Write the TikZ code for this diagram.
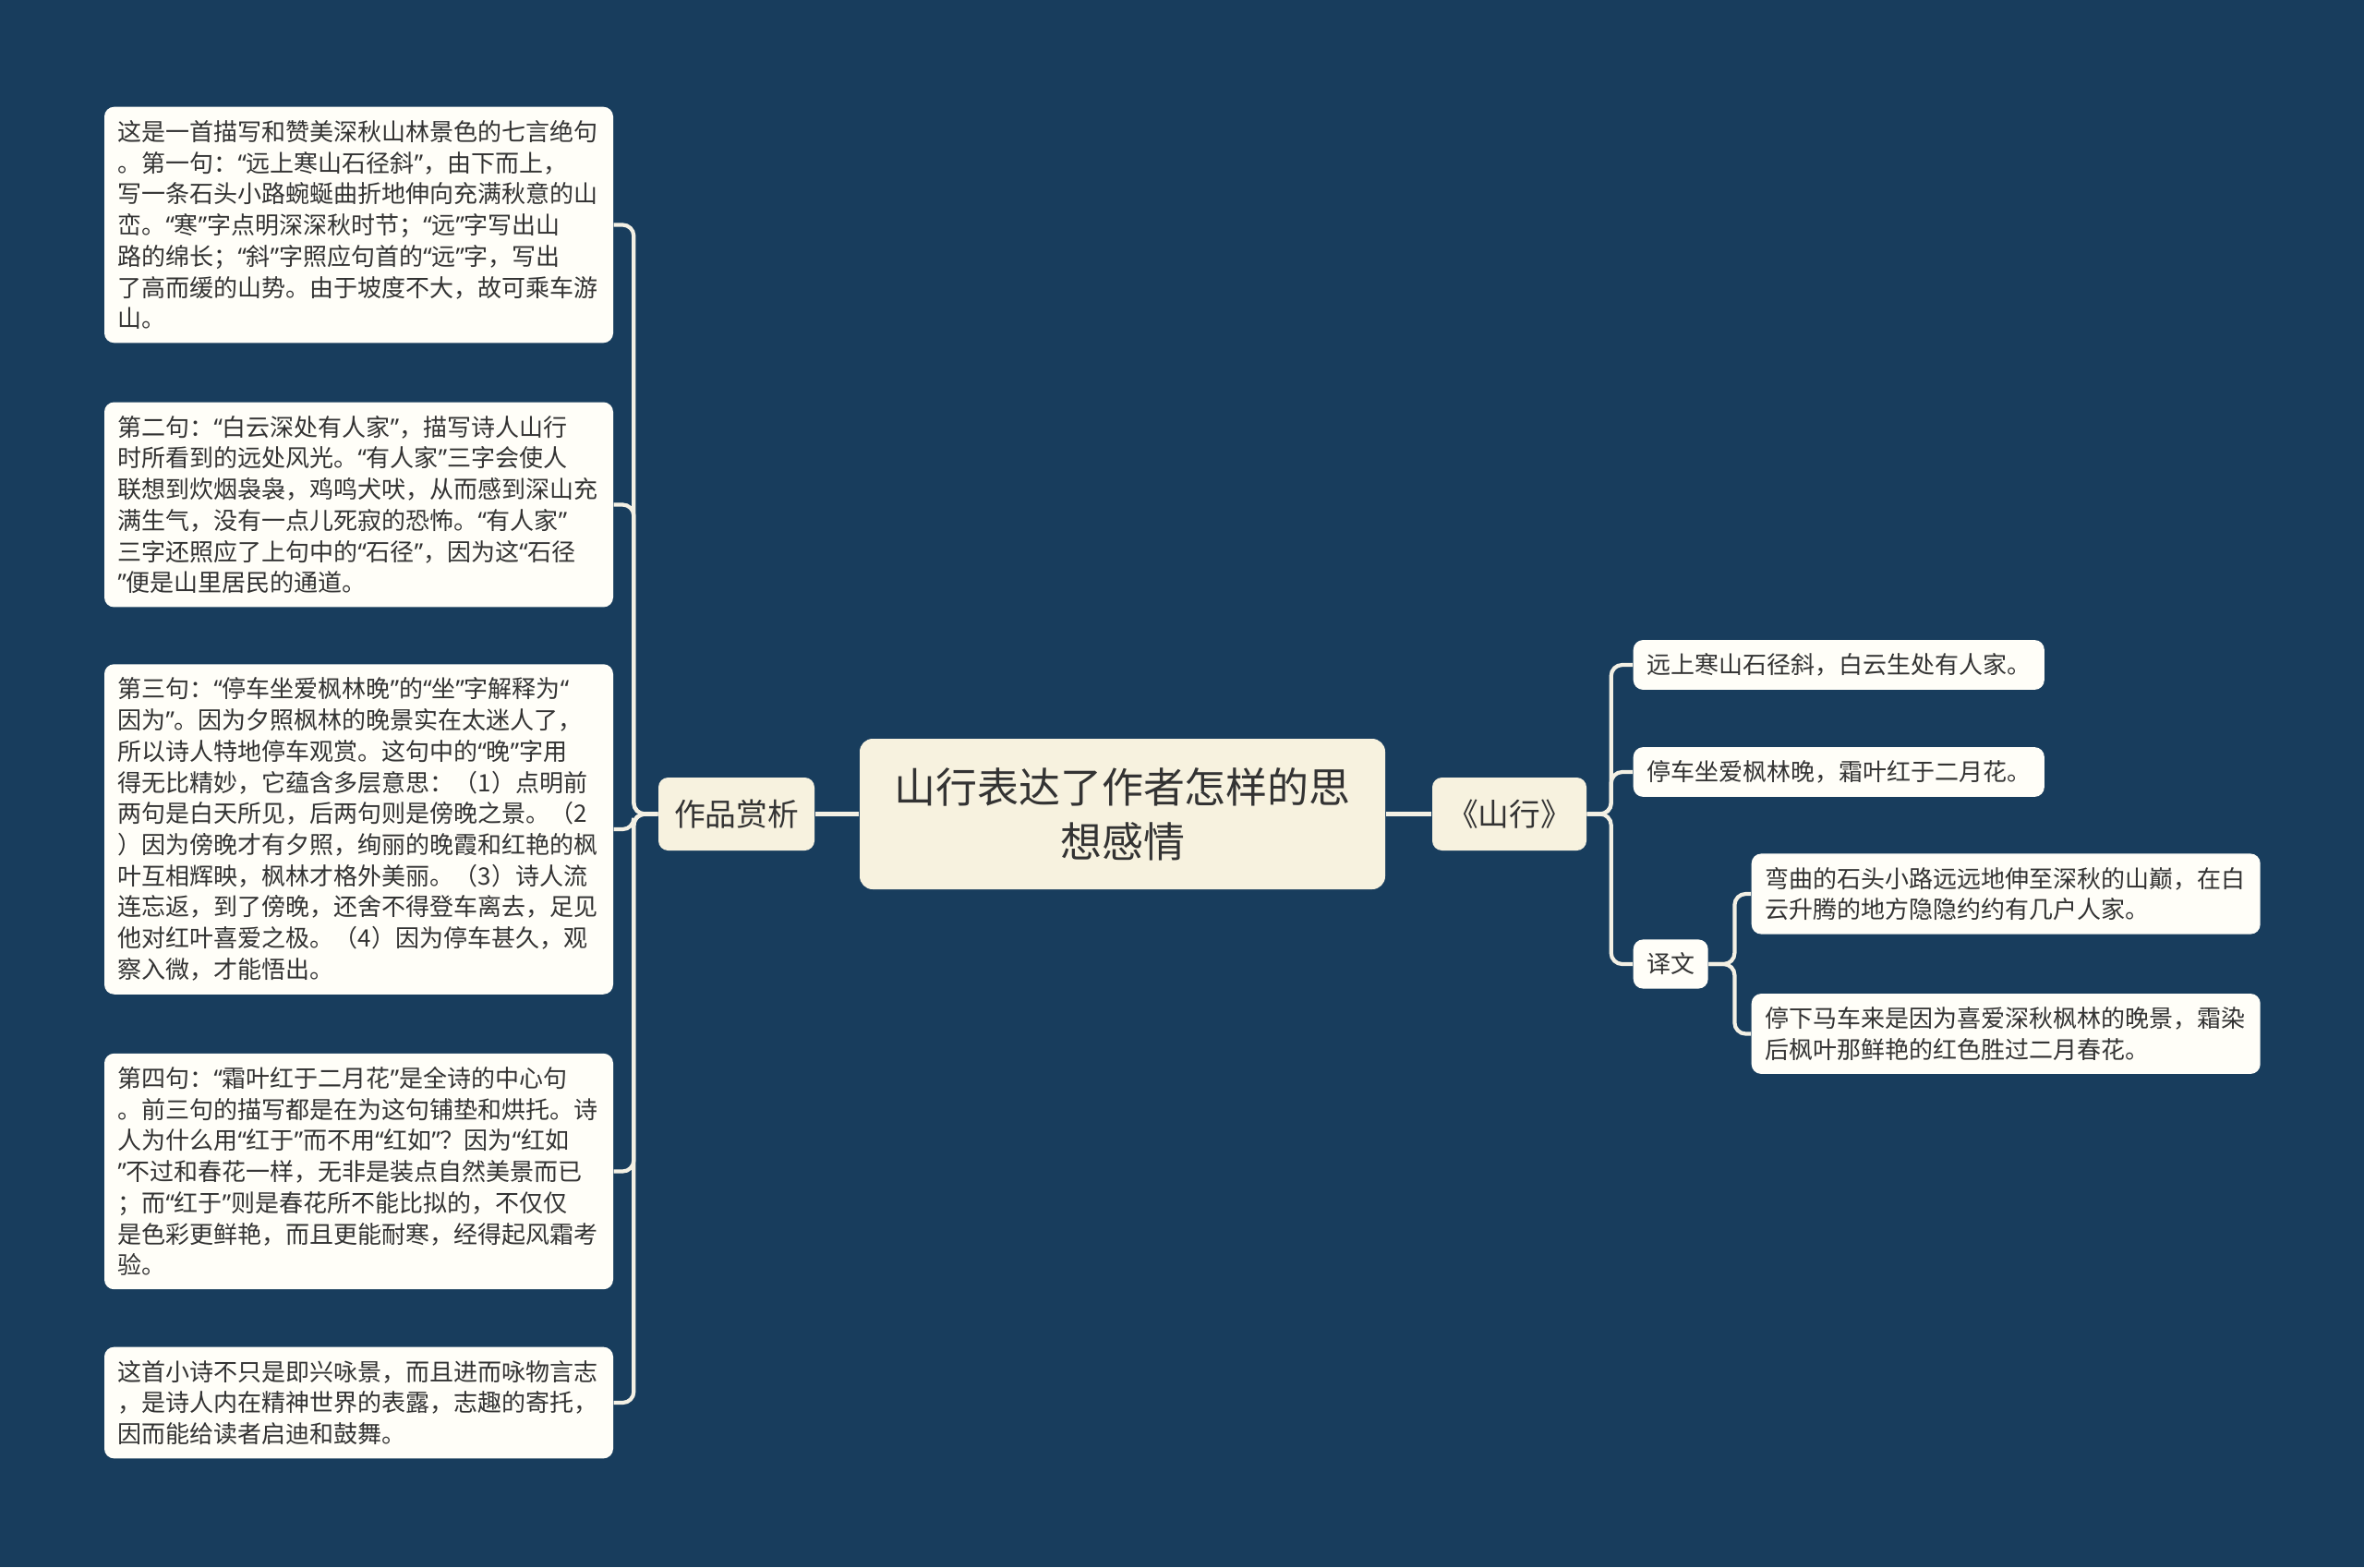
\documentclass[tikz,border=0pt]{standalone}
\usepackage{fontspec}
\setmainfont{Noto Sans CJK SC}
\newfontfamily\quotefont{Noto Sans}
\newcommand{\qL}{{\quotefont “}}
\newcommand{\qR}{{\quotefont ”}}
\definecolor{mapNavy}{HTML}{183D5D}
\definecolor{mapCream}{HTML}{F7F2DF}
\definecolor{mapPaper}{HTML}{FFFEF8}
\definecolor{mapInk}{HTML}{333333}
\definecolor{mapStroke}{HTML}{F3F0E4}
\tikzset{
  mapRoot/.style={
    fill=mapCream,
    rounded corners=4pt,
    align=center,
    text=mapInk,
    font=\fontsize{12.8pt}{16.7pt}\selectfont,
    text width=4.95cm,
    minimum width=5.69cm,
    minimum height=1.63cm,
    inner sep=0pt
  },
  mapTopic/.style={
    fill=mapCream,
    rounded corners=3pt,
    text=mapInk,
    font=\fontsize{9.6pt}{12pt}\selectfont,
    minimum width=1.69cm,
    minimum height=0.79cm,
    inner sep=0pt
  },
  mapCard/.style={
    fill=mapPaper,
    rounded corners=3pt,
    text=mapInk,
    font=\fontsize{7.4pt}{9.6pt}\selectfont,
    inner xsep=1.45mm,
    inner ysep=1.45mm
  },
  mapLeaf/.style={mapCard, align=left, text width=5.22cm},
  mapBranch/.style={draw=mapStroke, line width=1.2pt, rounded corners=1.2mm}
}

\begin{document}
\begin{tikzpicture}[x=1cm,y=1cm]
  \fill[mapNavy] (0,0) rectangle (25.6,-16.97);

  \node[mapRoot] (root) at (12.155,-8.815) {山行表达了作者怎样的思\\想感情};
  \node[mapTopic] (zp) at (7.975,-8.815) {作品赏析};
  \node[mapTopic, minimum width=1.67cm] (sx) at (16.345,-8.815) {《山行》};

  % left: appreciation
  \node[mapLeaf] (l1) at (3.885,-2.435)
    {这是一首描写和赞美深秋山林景色的七言绝句\\
     。第一句：\qL 远上寒山石径斜\qR，由下而上，\\
     写一条石头小路蜿蜒曲折地伸向充满秋意的山\\
     峦。\qL 寒\qR 字点明深深秋时节；\qL 远\qR 字写出山\\
     路的绵长；\qL 斜\qR 字照应句首的\qL 远\qR 字，写出\\
     了高而缓的山势。由于坡度不大，故可乘车游\\
     山。};
  \node[mapLeaf] (l2) at (3.885,-5.465)
    {第二句：\qL 白云深处有人家\qR，描写诗人山行\\
     时所看到的远处风光。\qL 有人家\qR 三字会使人\\
     联想到炊烟袅袅，鸡鸣犬吠，从而感到深山充\\
     满生气，没有一点儿死寂的恐怖。\qL 有人家\qR\\
     三字还照应了上句中的\qL 石径\qR，因为这\qL 石径\\
     \qR 便是山里居民的通道。};
  \node[mapLeaf] (l3) at (3.885,-8.98)
    {第三句：\qL 停车坐爱枫林晚\qR 的\qL 坐\qR 字解释为\qL\\
     因为\qR。因为夕照枫林的晚景实在太迷人了，\\
     所以诗人特地停车观赏。这句中的\qL 晚\qR 字用\\
     得无比精妙，它蕴含多层意思：（1）点明前\\
     两句是白天所见，后两句则是傍晚之景。（2\\
     ）因为傍晚才有夕照，绚丽的晚霞和红艳的枫\\
     叶互相辉映，枫林才格外美丽。（3）诗人流\\
     连忘返，到了傍晚，还舍不得登车离去，足见\\
     他对红叶喜爱之极。（4）因为停车甚久，观\\
     察入微，才能悟出。};
  \node[mapLeaf] (l4) at (3.885,-12.685)
    {第四句：\qL 霜叶红于二月花\qR 是全诗的中心句\\
     。前三句的描写都是在为这句铺垫和烘托。诗\\
     人为什么用\qL 红于\qR 而不用\qL 红如\qR？因为\qL 红如\\
     \qR 不过和春花一样，无非是装点自然美景而已\\
     ；而\qL 红于\qR 则是春花所不能比拟的，不仅仅\\
     是色彩更鲜艳，而且更能耐寒，经得起风霜考\\
     验。};
  \node[mapLeaf] (l5) at (3.885,-15.19)
    {这首小诗不只是即兴咏景，而且进而咏物言志\\
     ，是诗人内在精神世界的表露，志趣的寄托，\\
     因而能给读者启迪和鼓舞。};

  % right: the poem
  \node[mapCard, anchor=west] (r1) at (17.68,-7.20) {远上寒山石径斜，白云生处有人家。};
  \node[mapCard, anchor=west] (r2) at (17.68,-8.36) {停车坐爱枫林晚，霜叶红于二月花。};
  \node[mapCard, anchor=west] (yw) at (17.68,-10.44) {译文};
  \node[mapLeaf, anchor=west] (t1) at (18.96,-9.68)
    {弯曲的石头小路远远地伸至深秋的山巅，在白\\
     云升腾的地方隐隐约约有几户人家。};
  \node[mapLeaf, anchor=west] (t2) at (18.96,-11.195)
    {停下马车来是因为喜爱深秋枫林的晚景，霜染\\
     后枫叶那鲜艳的红色胜过二月春花。};

  \draw[mapBranch] (root.west) -- (zp.east);
  \draw[mapBranch] (root.east) -- (sx.west);
  \foreach \k in {1,...,5} {
    \draw[mapBranch] (zp.west) -- ++(-0.26,0) |- (l\k.east);
  }
  \foreach \k in {r1,r2,yw} {
    \draw[mapBranch] (sx.east) -- ++(0.26,0) |- (\k.west);
  }
  \foreach \k in {t1,t2} {
    \draw[mapBranch] (yw.east) -- ++(0.28,0) |- (\k.west);
  }
\end{tikzpicture}
\end{document}
